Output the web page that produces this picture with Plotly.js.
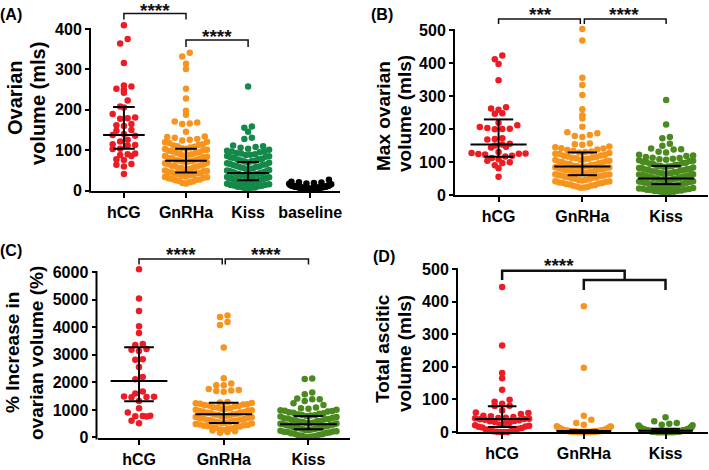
<!DOCTYPE html>
<html><head><meta charset="utf-8">
<script src="https://cdn.plot.ly/plotly-3.0.1.min.js"></script>
<style>html,body{margin:0;padding:0;background:#fff}#chart{width:709px;height:470px}</style>
</head><body><div id="chart"></div>
<script>
// ---------------- DATA ----------------
const catsA = ['hCG', 'GnRHa', 'Kiss', 'baseline'];
const catsBCD = ['hCG', 'GnRHa', 'Kiss'];

// (A) Ovarian volume (mls)
const A_hCG = [409, 375, 364, 316, 260, 258, 252, 250, 242, 223, 208, 206, 190, 181, 179, 178, 165, 162, 160, 150, 148, 140, 138, 136, 126, 122, 115, 113, 112, 104, 103, 92, 90, 88, 86, 78, 76, 66, 64, 60, 41];
const A_GnRHa = [341, 332, 314, 301, 252, 228, 198, 188, 171, 169, 166, 165, 146, 134, 133, 131,
  128, 126, 124, 121, 120, 118, 115, 113, 112, 110, 109, 107, 105, 104, 103, 101, 100, 99, 97, 95, 94, 93, 91, 90,
  88, 87, 86, 84, 83, 81, 80, 79, 77, 76, 75, 74, 73, 72, 70, 69, 68, 66, 65, 63, 62, 61, 60, 58, 57, 56, 54, 53,
  52, 50, 49, 48, 46, 45, 44, 43, 42, 40, 39, 38, 37, 35, 34, 33, 32, 31, 29, 28, 27, 26, 24, 23, 21, 19, 18];
const A_Kiss = [258, 159, 156, 146, 131, 128, 112, 110, 108, 106, 104, 101,
  99, 97, 97, 95, 93, 92, 90, 89, 88, 86, 85, 84, 82, 81, 79, 78, 77, 75, 74, 73, 72, 70, 69, 68, 66, 65, 64, 63,
  61, 60, 59, 58, 56, 55, 54, 53, 51, 50, 49, 48, 47, 46, 45, 44, 43, 42, 41, 41, 40, 39, 38, 37, 36, 36, 35, 34,
  33, 32, 31, 31, 30, 29, 28, 27, 27, 26, 25, 24, 24, 23, 22, 21, 20, 20, 19, 18, 17, 16, 15, 14, 13, 12, 11, 10, 9, 8, 7, 6, 4];
const A_baseline = [27, 22, 21, 20, 19, 18, 17, 16, 16, 15, 14, 14, 13, 13, 12, 12, 11, 11, 11, 10, 10, 10, 10, 9, 9, 9, 9, 9,
  8, 8, 8, 8, 8, 8, 7, 7, 7, 7, 7, 7, 6, 6, 6, 6, 6, 5, 5, 5, 5, 4, 4, 4, 3, 3];
const A_median = [138, 74, 44, 8];
const A_q1 = [104, 45, 26, 6];
const A_q3 = [207, 104, 71, 11];

// (B) Max ovarian volume (mls)
const B_hCG = [423, 411, 397, 348, 266, 262, 258, 248, 246, 219, 211, 206, 203, 201, 200, 199, 172, 170, 168, 155, 153, 150, 146, 144,
  130, 127, 126, 125, 124, 123, 119, 117, 112, 108, 104, 99, 97, 90, 81, 55];
const B_GnRHa = [503, 468, 355, 333, 303, 260, 242, 232, 207, 190, 187, 182, 179, 176, 156, 154, 152,
  147, 145, 142, 141, 138, 136, 134, 132, 130, 129, 127, 125, 124, 122, 120, 119, 117, 116, 114, 113, 111, 110, 108,
  107, 106, 104, 102, 101, 99, 98, 96, 95, 94, 92, 91, 89, 88, 87, 86, 85, 84, 83, 82, 80, 79, 78, 77, 75, 74, 73,
  71, 70, 69, 67, 66, 65, 63, 62, 61, 60, 59, 58, 57, 55, 54, 53, 52, 50, 49, 48, 46, 45, 44, 42, 41, 40, 38, 37,
  36, 35, 33, 32, 30, 29, 28, 26, 25, 23, 22];
const B_Kiss = [288, 214, 176, 172, 155, 149, 141, 139, 138, 131, 129, 122, 120,
  118, 115, 113, 112, 110, 108, 107, 105, 104, 103, 101, 100, 98, 97, 95, 93, 92, 91, 89, 88, 87, 86, 85, 83, 82,
  81, 79, 78, 77, 76, 75, 74, 72, 71, 70, 69, 68, 67, 66, 65, 64, 63, 62, 61, 60, 59, 58, 57, 56, 55, 54, 53, 52,
  51, 50, 50, 49, 48, 47, 46, 45, 44, 43, 42, 41, 40, 40, 39, 38, 37, 36, 35, 34, 33, 32, 31, 30, 30, 29, 28, 27,
  26, 25, 24, 23, 22, 21, 20, 19, 18, 17, 16, 15, 14, 13, 12, 11, 10, 9, 8, 6];
const B_median = [153, 86, 50];
const B_q1 = [116, 60, 33];
const B_q3 = [229, 129, 88];

// (C) % Increase in ovarian volume (%)
const C_hCG = [6098, 5036, 4588, 4033, 3790, 3391, 3355, 3210, 3180, 3138, 2837, 2820, 2558, 2196, 2112, 1666, 1594, 1485, 1480,
  1470, 1460, 1326, 1061, 906, 790, 783, 775, 760, 603, 518];
const C_GnRHa = [4420, 4370, 4190, 4080, 3261, 2149, 1957, 1895, 1890, 1760, 1720, 1700, 1690, 1660,
  1290, 1270, 1255, 1240, 1225, 1210, 1195, 1180, 1160, 1140, 1120, 1100, 1085, 1060, 1045, 1030, 1010, 990, 975,
  960, 940, 925, 910, 895, 880, 860, 845, 830, 815, 800, 780, 765, 745, 730, 715, 700, 690, 670, 655, 640, 625,
  610, 595, 580, 565, 550, 535, 520, 505, 490, 470, 455, 445, 430, 415, 400, 385, 370, 350, 330, 310, 290, 270,
  250, 225, 200, 170];
const C_Kiss = [2137, 2120, 1630, 1569, 1410, 1390, 1388, 1326, 1243, 1181,
  1090, 1060, 1040, 1010, 990, 970, 960, 940, 920, 900, 880, 860, 840, 820, 810, 795, 780, 760, 740, 720, 700, 690,
  670, 660, 645, 630, 610, 595, 580, 560, 545, 530, 515, 505, 495, 485, 470, 455, 440, 425, 410, 395, 380, 365,
  355, 345, 335, 320, 305, 290, 275, 260, 245, 230, 215, 205, 195, 180, 165, 150, 135, 120, 100, 85, 70, 55, 40, 25, 10];
const C_median = [2050, 845, 480];
const C_q1 = [1315, 530, 300];
const C_q3 = [3270, 1260, 783];

// (D) Total ascitic volume (mls)
const D_hCG = [445, 266, 181, 165, 130, 99, 93, 87, 81, 80, 66, 60, 58, 55, 50, 48, 46, 44, 43, 42, 41, 40, 39, 38, 36, 34, 33,
  31, 28, 26, 22, 21, 19, 17, 16, 14, 12, 10, 8, 5, 4, 3, 2, 1, 0, 0, 0];
const D_GnRHa = [386, 197, 50, 38, 28, 22, 18, 17, 16, 15, 14, 13, 12, 12, 11, 10, 10, 9, 9, 8, 8, 7, 7, 6, 6, 6, 5, 5, 5, 5,
  4, 4, 4, 4, 4, 3, 3, 3, 3, 3, 3, 3, 2, 2, 2, 2, 2, 2, 2, 2, 1, 1, 1, 1, 1, 1, 1, 1, 1,
  0, 0, 0, 0, 0, 0, 0, 0, 0, 0, 0, 0, 0, 0, 0, 0, 0, 0, 0, 0];
const D_Kiss = [45, 33, 28, 25, 22, 21, 20, 18, 16, 15, 14, 13, 12, 11, 10, 10, 9, 9, 8, 8, 8, 7, 7, 7, 6, 6, 6, 5, 5, 5, 5,
  4, 4, 4, 4, 3, 3, 3, 3, 3, 2, 2, 2, 2, 2, 2, 1, 1, 1, 1, 1, 1, 1, 1,
  0, 0, 0, 0, 0, 0, 0, 0, 0, 0, 0, 0, 0, 0, 0, 0, 0, 0, 0, 0, 0, 0, 0, 0, 0, 0];
const D_median = [40, 3, 4];
const D_q1 = [15, 0, 0];
const D_q3 = [79, 5, 10];

// ---------------- STYLE / LAYOUT ----------------
const W = 709, H = 470;
const RED = '#ED1C24', ORANGE = '#F7941D', GREEN_A = '#138A4A', GREEN = '#4A8A1E', BLACK = '#000000';
const FONT = 'Liberation Sans, Arial, sans-serif';

// px: x0/x1 = axis extent, yTick = pixel of the top tick value, yBot = pixel of 0
const panels = [
  { id: '', cats: catsA, groups: [A_hCG, A_GnRHa, A_Kiss, A_baseline], colors: [RED, ORANGE, GREEN_A, BLACK],
    med: A_median, q1: A_q1, q3: A_q3,
    px: { x0: 91, x1: 340, yTick: 29, yBot: 190.7 }, xr: [-0.53, 3.48], topTick: 400, dtick: 100, halfW: 21 },
  { id: '2', cats: catsBCD, groups: [B_hCG, B_GnRHa, B_Kiss], colors: [RED, ORANGE, GREEN],
    med: B_median, q1: B_q1, q3: B_q3,
    px: { x0: 455, x1: 708, yTick: 30, yBot: 195 }, xr: [-0.52, 2.5], topTick: 500, dtick: 100, halfW: 27 },
  { id: '3', cats: catsBCD, groups: [C_hCG, C_GnRHa, C_Kiss], colors: [RED, ORANGE, GREEN],
    med: C_median, q1: C_q1, q3: C_q3,
    px: { x0: 97.5, x1: 350, yTick: 272, yBot: 437.5 }, xr: [-0.49, 2.49], topTick: 6000, dtick: 1000, halfW: 28 },
  { id: '4', cats: catsBCD, groups: [D_hCG, D_GnRHa, D_Kiss], colors: [RED, ORANGE, GREEN],
    med: D_median, q1: D_q1, q3: D_q3,
    px: { x0: 458, x1: 708, yTick: 269.2, yBot: 432 }, xr: [-0.54, 2.52], topTick: 500, dtick: 100, halfW: 27 }
];

const DOT = 6.5, STEP = 7.5, BIN = 7;

// GraphPad-like scatter layout: values binned into rows, spread centre-out
function swarmOffsets(values, pxPerUnitY, unitsPerPxX, halfPx) {
  const bins = new Map();
  values.forEach((v, i) => {
    const b = Math.floor(v * pxPerUnitY / BIN);
    if (!bins.has(b)) bins.set(b, []);
    bins.get(b).push(i);
  });
  const off = new Array(values.length).fill(0);
  bins.forEach(idxs => {
    idxs.sort((a, b) => values[a] - values[b]);
    const m = idxs.length;
    let s = STEP;
    if (m > 1 && (m - 1) * s / 2 > halfPx) s = 2 * halfPx / (m - 1);
    const slots = [];
    if (m % 2 === 1) {
      slots.push(0);
      for (let k = 1; slots.length < m; k++) {
        if (k % 2) { slots.push(-k); if (slots.length < m) slots.push(k); }
        else { slots.push(k); if (slots.length < m) slots.push(-k); }
      }
    } else {
      for (let k = 0; slots.length < m; k++) {
        if (k % 2) { slots.push(k + 0.5); slots.push(-(k + 0.5)); }
        else { slots.push(-(k + 0.5)); slots.push(k + 0.5); }
      }
    }
    idxs.forEach((id, j) => { off[id] = slots[j] * s * unitsPerPxX; });
  });
  return off;
}

const traces = [];
const layout = {
  width: W, height: H, margin: { l: 0, r: 0, t: 0, b: 0 },
  paper_bgcolor: '#fff', plot_bgcolor: 'rgba(0,0,0,0)', showlegend: false,
  annotations: [], shapes: []
};
const px2x = v => v / W, px2y = v => 1 - v / H;

panels.forEach(p => {
  const xa = 'x' + p.id, ya = 'y' + p.id;
  const pxPerUnitY = (p.px.yBot - p.px.yTick) / p.topTick;
  const dataMax = Math.max(...p.groups.map(g => Math.max(...g)));
  const rangeMax = Math.max(p.topTick, dataMax + 4 / pxPerUnitY);
  const yTopPx = p.px.yBot - rangeMax * pxPerUnitY;
  const unitsPerPxX = (p.xr[1] - p.xr[0]) / (p.px.x1 - p.px.x0);
  p.groups.forEach((vals, g) => {
    const off = swarmOffsets(vals, pxPerUnitY, unitsPerPxX, p.halfW);
    traces.push({
      type: 'scatter', mode: 'markers', xaxis: xa, yaxis: ya, cliponaxis: false, hoverinfo: 'skip',
      x: vals.map((v, i) => g + off[i]), y: vals,
      marker: { size: DOT, color: p.colors[g], line: { width: 0 } }
    });
  });
  // median + interquartile range bars
  const lx = [], ly = [];
  p.cats.forEach((c, g) => {
    lx.push(g - 0.335, g + 0.335, null); ly.push(p.med[g], p.med[g], null);
    lx.push(g - 0.175, g + 0.175, null); ly.push(p.q1[g], p.q1[g], null);
    lx.push(g - 0.175, g + 0.175, null); ly.push(p.q3[g], p.q3[g], null);
    lx.push(g, g, null); ly.push(p.q1[g], p.q3[g], null);
  });
  traces.push({ type: 'scatter', mode: 'lines', xaxis: xa, yaxis: ya, cliponaxis: false, hoverinfo: 'skip',
    x: lx, y: ly, line: { color: '#000', width: 2 } });

  layout['xaxis' + p.id] = {
    domain: [p.px.x0 / W, p.px.x1 / W], range: p.xr, anchor: ya,
    tickmode: 'array', tickvals: p.cats.map((c, i) => i), ticktext: p.cats,
    showline: true, linewidth: 2, linecolor: '#000', ticks: 'outside', ticklen: 5, tickwidth: 2, tickcolor: '#000',
    showgrid: false, zeroline: false, ticklabelstandoff: 1,
    tickfont: { family: FONT, size: 16, color: '#000', weight: 'bold' }
  };
  layout['yaxis' + p.id] = {
    domain: [1 - p.px.yBot / H, 1 - yTopPx / H], range: [0, rangeMax], anchor: xa,
    tickmode: 'linear', tick0: 0, dtick: p.dtick,
    showline: false, ticks: 'outside', ticklen: 5, tickwidth: 2, tickcolor: '#000',
    showgrid: false, zeroline: false,
    tickfont: { family: FONT, size: 16, color: '#000', weight: 'bold' }
  };
  // y axis line only up to the last tick, as in the original
  layout.shapes.push({ type: 'line', xref: 'paper', yref: 'paper',
    x0: px2x(p.px.x0 - 1), x1: px2x(p.px.x0 - 1), y0: px2y(p.px.yBot + 2), y1: px2y(p.px.yTick - 1),
    line: { color: '#000', width: 2 } });
});

// helpers: category index -> pixel x
function catPx(p, i) { return p.px.x0 + (i - p.xr[0]) / (p.xr[1] - p.xr[0]) * (p.px.x1 - p.px.x0); }

function bracket(p, a, b, yPx, drop, width, offA, offB) {
  const xa = catPx(p, a) + (offA || 0), xb = catPx(p, b) + (offB || 0);
  layout.shapes.push({ type: 'path', xref: 'paper', yref: 'paper',
    path: `M${px2x(xa)},${px2y(yPx + drop)} L${px2x(xa)},${px2y(yPx)} L${px2x(xb)},${px2y(yPx)} L${px2x(xb)},${px2y(yPx + drop)}`,
    line: { color: '#111', width: width } });
}
function stars(p, xCat, yPx, text) {
  layout.annotations.push({ xref: 'paper', yref: 'paper', x: px2x(catPx(p, xCat)), y: px2y(yPx + 4),
    xanchor: 'center', yanchor: 'middle', showarrow: false, text: text,
    font: { family: FONT, size: 19, color: '#111', weight: 'bold' } });
}
const [PA, PB, PC, PD] = panels;
bracket(PA, 0, 1, 13.5, 6, 1.5); stars(PA, 0.5, 7, '****');
bracket(PA, 1, 2, 40, 7, 1.5); stars(PA, 1.5, 33, '****');
bracket(PB, 0, 1, 19, 5, 1.5, 0, -2); stars(PB, 0.5, 11, '***');
bracket(PB, 1, 2, 19, 5, 1.5, 2, 0); stars(PB, 1.5, 11, '****');
bracket(PC, 0, 1, 259, 5.5, 1.5, 0, -1.5); stars(PC, 0.5, 251, '****');
bracket(PC, 1, 2, 259, 5.5, 1.5, 1.5, 0); stars(PC, 1.5, 251, '****');
bracket(PD, 0, 1.5, 270.7, 9.3, 2.5); stars(PD, 0.7, 261, '****');
bracket(PD, 1, 2, 280, 10, 2.5);

// y-axis titles (two lines each) and panel letters
function txt(x, y, text, size, angle) {
  layout.annotations.push({ xref: 'paper', yref: 'paper', x: px2x(x), y: px2y(y), xanchor: 'center', yanchor: 'middle',
    showarrow: false, text: text, textangle: angle || 0,
    font: { family: FONT, size: size, color: '#000', weight: 'bold' } });
}
txt(15, 98, 'Ovarian', 20, -90); txt(38, 104, 'volume (mls)', 20, -90);
txt(383, 116, 'Max ovarian', 19, -90); txt(404, 114, 'volume (mls)', 19, -90);
txt(12, 353, '% Increase in', 19, -90); txt(36, 353, 'ovarian volume (%)', 19, -90);
txt(382, 349, 'Total ascitic', 19, -90); txt(404, 354, 'volume (mls)', 19, -90);
txt(11, 14, '(A)', 16); txt(382, 14, '(B)', 16); txt(11, 250, '(C)', 16); txt(384, 256, '(D)', 16);

Plotly.newPlot('chart', traces, layout, { displayModeBar: false, staticPlot: true });
</script>
</body></html>
